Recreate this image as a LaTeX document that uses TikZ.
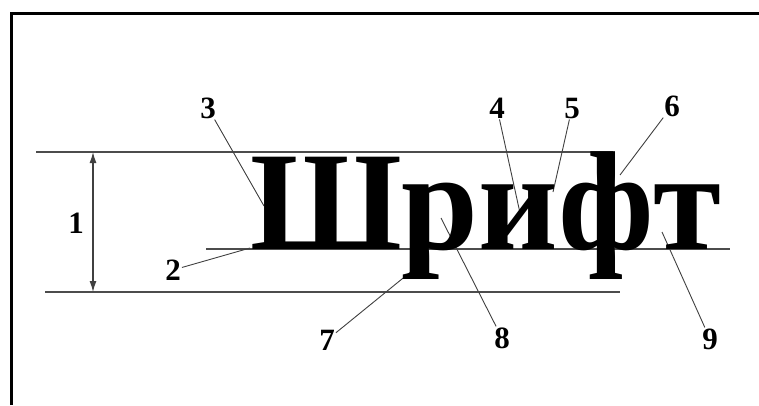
\documentclass[tikz,border=0pt]{standalone}
\usepackage{fontspec}
\setmainfont{Liberation Serif}
\usetikzlibrary{arrows.meta,positioning}
\tikzset{
  framerule/.style={line width=3pt,black},
  guideline/.style={line width=1.3pt,black!70},
  leaderline/.style={line width=0.9pt,black!75},
  numlabel/.style={font=\fontsize{31}{31}\selectfont\bfseries,inner sep=1pt},
  dimarrow/.style={{Latex[length=11pt,width=7pt]}-{Latex[length=11pt,width=7pt]},
    line width=1.3pt,black!75},
  wordlabel/.style={font=\fontsize{141}{141}\selectfont\bfseries,inner sep=0pt,
    anchor=base west}
}

\begin{document}
\begin{tikzpicture}[x=1pt,y=-1pt]
  \useasboundingbox (0,0) rectangle (759,405);
  % frame
  \draw[framerule] (11,405) -- (11,13) -- (759,13);
  % guide lines: top, baseline, bottom
  \draw[guideline] (36,152) -- (613,152);
  \draw[guideline] (206,249) -- (730,249);
  \draw[guideline] (45,292) -- (620,292);
  \coordinate (dimtop) at (93,152);
  \coordinate (dimbot) at (93,292);
  \draw[dimarrow] (dimtop) -- (dimbot);
  % number labels
  \node[numlabel] (n1) at (76,223) {1};
  \node[numlabel] (n2) at (173,270) {2};
  \node[numlabel] (n3) at (208,108) {3};
  \node[numlabel] (n4) at (497,108) {4};
  \node[numlabel] (n5) at (572,108) {5};
  \node[numlabel] (n6) at (672,106) {6};
  \node[numlabel] (n7) at (327,340) {7};
  \node[numlabel] (n8) at (502,338) {8};
  \node[numlabel] (n9) at (710,339) {9};
  % leader ends on the letters
  \coordinate (p2) at (250,248);
  \coordinate (p3) at (264,206);
  \coordinate (p4) at (520,213);
  \coordinate (p5) at (553,192);
  \coordinate (p6) at (620,175);
  \coordinate (p7) at (413,270);
  \coordinate (p8) at (441,218);
  \coordinate (p9) at (662,232);
  \foreach \k in {2,...,9}
    \draw[leaderline] (n\k) -- (p\k);
  % the word
  \node[wordlabel] (word) at (250,249) {\scalebox{0.98}[1]{Шрифт}};
\end{tikzpicture}
\end{document}
